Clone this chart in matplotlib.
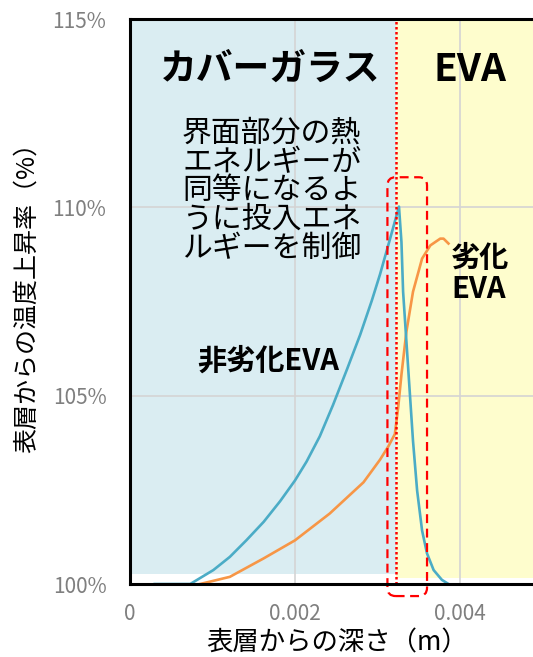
import matplotlib
matplotlib.use("Agg")
import matplotlib.pyplot as plt
from matplotlib.patches import Rectangle, FancyBboxPatch

plt.rcParams['font.family'] = ['Noto Sans CJK JP', 'DejaVu Sans']

# 非劣化EVA (blue) : depth [m], temperature rise [%]
fresh_x = [0.00030, 0.00073, 0.00101, 0.00121, 0.00141, 0.00162, 0.00182, 0.00200,
           0.00214, 0.00230, 0.00246, 0.00263, 0.00279, 0.00293, 0.00303, 0.00315,
           0.00326, 0.00329, 0.00331, 0.00335, 0.00339, 0.00343, 0.00348, 0.00354,
           0.00360, 0.00368, 0.00378, 0.00386]
fresh_y = [100.0, 100.0, 100.37, 100.72, 101.16, 101.65, 102.20, 102.75,
           103.25, 103.92, 104.75, 105.70, 106.62, 107.52, 108.22, 109.15,
           110.02, 109.08, 107.76, 106.44, 105.12, 103.80, 102.48, 101.42,
           100.81, 100.37, 100.11, 100.0]

# 劣化EVA (orange)
aged_x = [0.00085, 0.00121, 0.00162, 0.00200, 0.00242, 0.00283, 0.00303, 0.00313,
          0.00321, 0.00325, 0.00329, 0.00335, 0.00343, 0.00354, 0.00364, 0.00376,
          0.00380, 0.00386]
aged_y = [100.0, 100.19, 100.68, 101.16, 101.87, 102.70, 103.30, 103.65,
          103.98, 104.68, 105.56, 106.70, 107.76, 108.64, 108.99, 109.17,
          109.17, 109.04]

interface_x = 0.00322
box_x = [0.00312, 0.00360]
box_y = [99.68, 110.8]

yticks = [100, 105, 110, 115]
ytick_labels = ['100%', '105%', '110%', '115%']
xticks = [0, 0.002, 0.004]
xtick_labels = ['0', '0.002', '0.004']

note_lines = ['界面部分の熱', 'エネルギーが', '同等になるよ', 'うに投入エネ', 'ルギーを制御']

fig = plt.figure(figsize=(5.33, 6.57), dpi=100)
ax = fig.add_axes([0.2439, 0.1111, 0.774, 0.8599])
ax.set_xlim(0, 0.005)
ax.set_ylim(100, 115)

# background regions
ax.add_patch(Rectangle((0, 100.27), interface_x, 15, facecolor='#daedf2', edgecolor='none', zorder=0))
ax.add_patch(Rectangle((interface_x, 100.17), 0.005 - interface_x, 15, facecolor='#fefdcd', edgecolor='none', zorder=0))

ax.set_xticks(xticks)
ax.set_xticklabels(xtick_labels)
ax.set_yticks(yticks)
ax.set_yticklabels(ytick_labels)
ax.grid(True, color='#d4d4d4', linewidth=1.2, zorder=1)
ax.set_axisbelow(False)
ax.tick_params(length=0, labelsize=15, labelcolor='#7f7f7f')
ax.tick_params(axis='y', pad=17)
ax.tick_params(axis='x', pad=14)
for s in ['left', 'bottom', 'top', 'right']:
    ax.spines[s].set_linewidth(2.2)
    ax.spines[s].set_color('black')
    ax.spines[s].set_zorder(5)

ax.plot(aged_x, aged_y, color='#f79646', linewidth=1.9, zorder=3)
ax.plot(fresh_x, fresh_y, color='#4bacc6', linewidth=1.9, zorder=3)

ax.axvline(interface_x, color='#ff0000', linestyle=(0, (1, 1)), linewidth=1.8, zorder=4)
box = FancyBboxPatch((box_x[0], box_y[0]), box_x[1] - box_x[0], box_y[1] - box_y[0],
                     boxstyle='round,pad=0,rounding_size=0.0001', mutation_aspect=2200,
                     facecolor='none', edgecolor='#ff0000', linestyle=(0, (4, 2.5)),
                     linewidth=1.6, clip_on=False, zorder=4)
ax.add_patch(box)

ax.text(0.00170, 113.66, 'カバーガラス', fontsize=26.5, fontweight='bold', ha='center', va='center', zorder=6)
ax.text(0.00412, 113.66, 'EVA', fontsize=28, fontweight='bold', ha='center', va='center', zorder=6)
for i, line in enumerate(note_lines):
    ax.text(0.00063, 111.96 - i * 0.76, line, fontsize=21.5, ha='left', va='center', zorder=6)
ax.text(0.00081, 105.93, '非劣化EVA', fontsize=21, fontweight='bold', ha='left', va='center', zorder=6)
ax.text(0.00389, 108.65, '劣化', fontsize=21, fontweight='bold', ha='left', va='center', zorder=6)
ax.text(0.00389, 107.83, 'EVA', fontsize=21, fontweight='bold', ha='left', va='center', zorder=6)

fig.text(0.051, 0.557, '表層からの温度上昇率（%）', rotation=90, fontsize=18, ha='center', va='center')
fig.text(0.632, 0.021, '表層からの深さ（m）', fontsize=19, ha='center', va='center')

fig.savefig('out.png', dpi=100)
